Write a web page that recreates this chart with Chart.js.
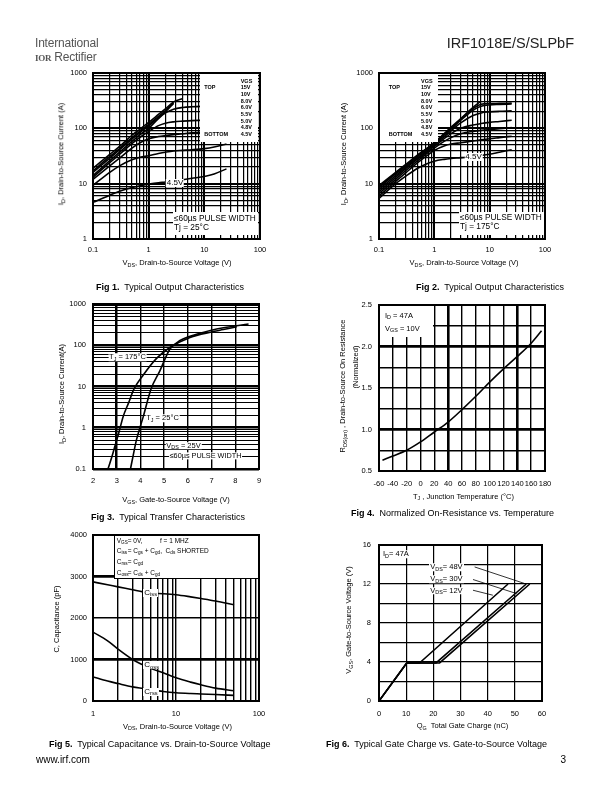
<!DOCTYPE html>
<html><head><meta charset="utf-8">
<script src="https://cdn.jsdelivr.net/npm/chart.js@4.4.0/dist/chart.umd.min.js"></script>
<style>
html,body{margin:0;padding:0;background:#fff;}
body{width:612px;height:792px;position:relative;overflow:hidden;font-family:"Liberation Sans",Arial,sans-serif;color:#000;}
.t{position:absolute;white-space:nowrap;line-height:1;filter:grayscale(1);}
.s{font-size:0.72em;position:relative;top:0.32em;}
.box{position:absolute;background:#fff;}
</style></head><body>
<script>
// ---------------- DATA ----------------
// Fig 1 : Tj = 25 C
const F1_VDS = [0.1,0.2,0.3,0.5,0.7,1,1.5,2,2.8,4.1,6,10,15,25];
const F1_15V = [19,34,47,75,97,128,178,225,300,345,null,null,null,null];
const F1_10V = [17,31,43,68,89,118,165,210,292,null,null,null,null,null];
const F1_8V  = [16,29,41,64,84,111,157,198,282,null,null,null,null,null];
const F1_6V  = [14,26,37,58,77,100,150,190,222,238,245,250,253,256];
const F1_55V = [13,24,34,53,69,88,112,124,131,135,138,140,143,146];
const F1_5V  = [12,21,29,44,55,65,71,74,77,80,83,86,88,91];
const F1_48V = [9.3,16,21,27,30,32,35,37,39,40,41,43,46,52];
const F1_45V = [4.6,6.2,7.3,8.5,9.2,9.8,10.4,10.7,11.2,11.8,12.5,13.5,15,18.5];
// Fig 2 : Tj = 175 C
const F2_VDS = [0.1,0.2,0.3,0.5,0.7,1,1.5,2,3,5,7,10,15,25];
const F2_15V = [9.3,16,22,33,42,55,80,105,150,240,310,null,null,null];
const F2_10V = [8.8,15.5,21,32,41,53,77,100,145,228,272,280,282,285];
const F2_8V  = [8.4,15,20.5,31,40,52,75,97,140,212,250,265,270,275];
const F2_6V  = [7.8,14,19.5,29.5,38,50,70,90,125,170,190,198,203,207];
const F2_55V = [7.2,13,18.5,28,36,47,65,80,100,115,122,128,133,140];
const F2_5V  = [6.6,12,17,26,34,44,58,68,80,88,92,95,98,103];
const F2_48V = [6.0,11,15.5,24,31,40,48,52,55,59,62,65,68,72];
const F2_45V = [5.4,10,13.5,19,22.5,25.5,27.5,28.5,29.5,31,32.5,34,37,41];
const VGS_LEGEND = ['15V','10V','8.0V','6.0V','5.5V','5.0V','4.8V','4.5V'];
// Fig 3 : transfer
const F3_VGS_175 = [2.63,2.8,2.92,3.1,3.27,3.5,3.72,4.12,4.68,5.24,6.09,7.0,7.5,8.06];
const F3_ID_175  = [0.1,0.2,0.35,0.8,1.86,4.0,8.5,19,48,88,155,210,240,280];
const F3_VGS_25  = [3.58,3.7,3.83,4.0,4.12,4.44,4.82,5.24,5.67,6.51,7.5,8.56];
const F3_ID_25   = [0.1,0.22,0.5,1.1,1.86,8.5,24,80,130,195,265,327];
// Fig 4 : normalized Rds(on)
const F4_TJ = [-55,-40,-20,0,20,40,60,80,100,120,140,160,175];
const F4_R  = [0.63,0.68,0.75,0.85,0.97,1.09,1.24,1.40,1.57,1.73,1.88,2.04,2.19];
// Fig 5 : capacitance
const F5_VDS  = [1,1.5,2,3,4,5,7,10,15,20,30,50];
const F5_CISS = [2870,2800,2750,2680,2630,2600,2585,2560,2510,2470,2410,2320];
const F5_COSS = [1660,1450,1250,1000,870,780,680,560,455,390,310,245];
const F5_CRSS = [580,480,420,340,300,270,230,200,180,170,155,135];
// Fig 6 : gate charge
const F6_Q_12V = [0,10.2,14.9,47.5];
const F6_V_12V = [0,3.9,3.9,12];
const F6_Q_30V = [0,10.2,21.0,54.2];
const F6_V_30V = [0,3.9,3.9,12];
const F6_Q_48V = [0,10.2,22.3,55.5];
const F6_V_48V = [0,3.9,3.9,12];
const F6_LEAD48_Q = [35.2,53.6], F6_LEAD48_V = [13.75,12.05];
const F6_LEAD30_Q = [34.6,50.6], F6_LEAD30_V = [12.46,11.02];
const F6_LEAD12_Q = [34.6,41.9], F6_LEAD12_V = [11.36,10.85];

// ---------------- HELPERS ----------------
Chart.defaults.font.family = '"Liberation Sans", Arial, sans-serif';
Chart.defaults.color = '#000';

const framePlugin = {id:'frame', afterDraw(chart){
  const {ctx, chartArea:a} = chart;
  ctx.save(); ctx.strokeStyle='#000'; ctx.lineWidth=2;
  ctx.strokeRect(a.left, a.top, a.right-a.left, a.bottom-a.top); ctx.restore();
}};
const isDec = v => { const l=Math.log10(v); return Math.abs(l-Math.round(l))<1e-6; };
const decLabel = v => { if(!isDec(v)) return ''; const r=Math.round(Math.log10(v)); return r<0 ? Math.pow(10,r).toFixed(-r) : String(Math.round(Math.pow(10,r))); };
function logTicks(min,max){
  const out=[];
  for(let e=Math.floor(Math.log10(min)); e<=Math.ceil(Math.log10(max)); e++)
    for(let m=1;m<=9;m++){ const v=Number((m*Math.pow(10,e)).toPrecision(6)); if(v>=min*0.9999 && v<=max*1.0001) out.push(v); }
  return out;
}
function pairs(xs, ys){ return xs.map((x,i)=>({x, y:ys[i]})).filter(p=>p.y!=null); }
function line(xs, ys, opt={}){
  return Object.assign({data:pairs(xs,ys), borderColor:'#000', borderWidth:1.6, pointRadius:0, fill:false, cubicInterpolationMode:'monotone'}, opt);
}
function logAxis(min,max,pad,lw){
  return {type:'logarithmic', min, max,
    afterBuildTicks: s => { s.ticks = logTicks(min,max).map(v=>({value:v})); },
    ticks:{autoSkip:false, maxRotation:0, minRotation:0, padding:pad, font:{size:7.5}, callback:v=>decLabel(v)},
    grid:{color:'#000', drawTicks:false, lineWidth: c => c.tick ? lw(c.tick.value) : 1},
    border:{display:false}};
}
function linAxis(min,max,step,pad,labelFn,lw,size){
  return {type:'linear', min, max,
    ticks:{stepSize:step, autoSkip:false, maxRotation:0, minRotation:0, padding:pad, font:{size:size||7.5}, callback:labelFn},
    grid:{color:'#000', drawTicks:false, lineWidth: c => c.tick ? lw(c.tick.value) : 1},
    border:{display:false}};
}
function mk(P, datasets, xs, ys){
  const w=P.r-P.l+52, h=P.b-P.t+28;
  const d=document.createElement('div');
  d.style.cssText=`position:absolute;left:${P.l-40}px;top:${P.t-8}px;width:${w}px;height:${h}px;`;
  const c=document.createElement('canvas'); d.appendChild(c); document.body.appendChild(d);
  xs.afterFit = s => { s.height=20; s.paddingLeft=0; s.paddingRight=0; };
  ys.afterFit = s => { s.width=40; s.paddingTop=0; s.paddingBottom=0; };
  return new Chart(c,{type:'line', data:{datasets},
    options:{responsive:true, maintainAspectRatio:false, animation:false, events:[],
      layout:{padding:{left:0,top:8,right:12,bottom:0}},
      plugins:{legend:{display:false}, tooltip:{enabled:false}},
      scales:{x:xs, y:ys}},
    plugins:[framePlugin]});
}
function T(html,x,y,o={}){
  const d=document.createElement('div'); d.className='t'; d.innerHTML=html;
  d.style.left=x+'px'; d.style.top=y+'px'; d.style.fontSize=(o.size||7.5)+'px';
  if(o.bold) d.style.fontWeight='bold';
  if(o.color) d.style.color=o.color;
  if(o.bg){ d.style.background='#fff'; d.style.padding=o.pad||'0 1px'; }
  if(o.ls) d.style.letterSpacing=o.ls;
  const ax = o.align==='center'?'-50%':(o.align==='right'?'-100%':'0');
  d.style.transform = o.rot ? 'translate(-50%,-50%) rotate(-90deg)' : `translate(${ax},-50%)`;
  document.body.appendChild(d); return d;
}
function B(x,y,w,h,border){
  const d=document.createElement('div'); d.className='box';
  d.style.cssText+=`left:${x}px;top:${y}px;width:${w}px;height:${h}px;`+(border?`box-sizing:border-box;border:${border};`:'');
  document.body.appendChild(d);
}
const S = t => `<span class="s">${t}</span>`;

// ---------------- CHARTS ----------------
const P1={l:93,t:73,r:260,b:239}, P2={l:379,t:73,r:545,b:239};
const P3={l:93,t:304,r:259,b:469}, P4={l:379,t:305,r:545,b:471};
const P5={l:93,t:535,r:259,b:701}, P6={l:379,t:545,r:542,b:701};
const lwLog = v => isDec(v)?2:1.2;

mk(P1, [F1_15V,F1_10V,F1_8V,F1_6V,F1_55V,F1_5V,F1_48V,F1_45V].map(a=>line(F1_VDS,a)),
   logAxis(0.1,100,6,lwLog), logAxis(1,1000,6,lwLog));
mk(P2, [F2_15V,F2_10V,F2_8V,F2_6V,F2_55V,F2_5V,F2_48V,F2_45V].map(a=>line(F2_VDS,a)),
   logAxis(0.1,100,6,lwLog), logAxis(1,1000,6,lwLog));
mk(P3, [line(F3_VGS_175,F3_ID_175), line(F3_VGS_25,F3_ID_25)],
   linAxis(2,9,1,7,v=>String(v),v=>v===3?2.5:1.4),
   logAxis(0.1,1000,7,v=>isDec(v)?2.6:1.1));
mk(P4, [line(F4_TJ,F4_R)],
   linAxis(-60,180,20,8,v=>String(v),v=>(v===40||v===140)?2.6:1.4,7.6),
   linAxis(0.5,2.5,0.25,7,v=>Math.abs(v*2-Math.round(v*2))<1e-6?v.toFixed(1):'',v=>(Math.abs(v-1)<1e-6||Math.abs(v-2)<1e-6)?2.8:1.4));
mk(P5, [line(F5_VDS,F5_CISS), line(F5_VDS,F5_COSS), line(F5_VDS,F5_CRSS)],
   logAxis(1,100,8,v=>1.4),
   linAxis(0,4000,1000,6,v=>String(v),v=>(v===1000||v===3000)?2.8:1.4));
const straight = {cubicInterpolationMode:'default', tension:0};
mk(P6, [line(F6_Q_12V,F6_V_12V,straight), line(F6_Q_30V,F6_V_30V,straight), line(F6_Q_48V,F6_V_48V,straight),
        line(F6_LEAD48_Q,F6_LEAD48_V,Object.assign({borderWidth:0.8},straight)),
        line(F6_LEAD30_Q,F6_LEAD30_V,Object.assign({borderWidth:0.8},straight)),
        line(F6_LEAD12_Q,F6_LEAD12_V,Object.assign({borderWidth:0.8},straight))],
   linAxis(0,60,10,8,v=>String(v),v=>1.2),
   linAxis(0,16,2,8,v=>v%4===0?String(v):'',v=>1.2));

// ---------------- TEXT ----------------
// header
T('International',35,43,{size:12,color:'#555',ls:'-0.2px'});
T('<b style="font-family:\'Liberation Serif\',serif;font-size:9px;letter-spacing:-0.3px">IOR</b> Rectifier',35,57,{size:12,color:'#555',ls:'-0.2px'});
T('IRF1018E/S/SLPbF',574,43,{size:14.5,align:'right',color:'#222'});

// Fig 1
B(200,74,58,68);
T('VGS',240.7,81.7,{size:5.5,bold:true});
VGS_LEGEND.forEach((s,i)=>T(s,240.7,88.4+i*6.66,{size:5.5,bold:true}));
T('TOP',204.3,88.4,{size:5.5,bold:true});
T('BOTTOM',204.3,135,{size:5.5,bold:true});
B(173,212,85,23);
T('&le;60&micro;s PULSE WIDTH',174,217.5,{size:8.3});
T('Tj = 25&deg;C',174,226.8,{size:8.3});
T('4.5V',175,183,{size:8,align:'center',bg:true});
T('I'+S('D')+', Drain-to-Source Current (A)',61,154,{rot:true});
T('V'+S('DS')+', Drain-to-Source Voltage (V)',177,263.3,{align:'center'});
T('<b>Fig 1.</b>&nbsp; Typical Output Characteristics',96,287,{size:9});

// Fig 2
B(380,74,58,68);
T('VGS',421,81.7,{size:5.5,bold:true});
VGS_LEGEND.forEach((s,i)=>T(s,421,88.4+i*6.66,{size:5.5,bold:true}));
T('TOP',388.7,88.4,{size:5.5,bold:true});
T('BOTTOM',388.7,135,{size:5.5,bold:true});
B(459,212,85,23);
T('&le;60&micro;s PULSE WIDTH',460,217,{size:8.3});
T('Tj = 175&deg;C',460,226.3,{size:8.3});
T('4.5V',473.5,157,{size:8,align:'center',bg:true});
T('I'+S('D')+', Drain-to-Source Current (A)',344.3,154,{rot:true});
T('V'+S('DS')+', Drain-to-Source Voltage (V)',464,263.3,{align:'center'});
T('<b>Fig 2.</b>&nbsp; Typical Output Characteristics',416,287,{size:9});

// Fig 3
T('T'+S('J')+' = 175&deg;C',127.5,357.3,{align:'center',bg:true});
T('T'+S('J')+' = 25&deg;C',162.5,418.3,{align:'center',bg:true});
T('V'+S('DS')+' = 25V',183.5,445.5,{align:'center',bg:true});
T('&le;60&micro;s PULSE WIDTH',205.5,455.7,{align:'center',bg:true,size:7.3});
T('I'+S('D')+', Drain-to-Source Current(A)',62,394,{rot:true});
T('V'+S('GS')+', Gate-to-Source Voltage (V)',176,500,{align:'center'});
T('<b>Fig 3.</b>&nbsp; Typical Transfer Characteristics',91,517,{size:9});

// Fig 4
B(380,306,53,31);
T('I'+S('D')+' = 47A',385,315.5);
T('V'+S('GS')+' = 10V',385,328.7);
T('R'+S('DS(on)')+' , Drain-to-Source On Resistance',342.7,386,{rot:true});
T('(Normalized)',356,367,{rot:true});
T('T'+S('J')+' , Junction Temperature (&deg;C)',463.5,496.7,{align:'center'});
T('<b>Fig 4.</b>&nbsp; Normalized On-Resistance vs. Temperature',351,513,{size:9});

// Fig 5
B(114,535,145,44,'1px solid #000');
T('V'+S('GS'),116.7,541,{size:6.5}); T('= 0V,',127.7,541,{size:6.5}); T('f = 1 MHZ',160,541,{size:6.5});
T('C'+S('iss'),116.7,551,{size:6.5}); T('= C'+S('gs')+' + C'+S('gd')+',&nbsp; C'+S('ds')+' SHORTED',127.7,551,{size:6.5});
T('C'+S('rss'),116.7,562,{size:6.5}); T('= C'+S('gd'),127.7,562,{size:6.5});
T('C'+S('oss'),116.7,573,{size:6.5}); T('= C'+S('ds')+' + C'+S('gd'),127.7,573,{size:6.5});
T('C'+S('iss'),143.3,592.5,{size:8,bg:true});
T('C'+S('oss'),143.3,665,{size:8,bg:true});
T('C'+S('rss'),143.3,691.5,{size:8,bg:true});
T('C, Capacitance (pF)',57,619,{rot:true});
T('V'+S('DS')+', Drain-to-Source Voltage (V)',177.5,726.5,{align:'center'});
T('<b>Fig 5.</b>&nbsp; Typical Capacitance vs. Drain-to-Source Voltage',49,744,{size:9});

// Fig 6
T('I'+S('D')+'= 47A',382,554,{bg:true});
T('V'+S('DS')+'= 48V',429.3,567.3,{bg:true});
T('V'+S('DS')+'= 30V',429.3,579.3,{bg:true});
T('V'+S('DS')+'= 12V',429.3,590.7,{bg:true});
T('V'+S('GS')+', Gate-to-Source Voltage (V)',349,620,{rot:true});
T('Q'+S('G')+'&nbsp; Total Gate Charge (nC)',462.5,726,{align:'center'});
T('<b>Fig 6.</b>&nbsp; Typical Gate Charge vs. Gate-to-Source Voltage',326,744,{size:9});

// footer
T('www.irf.com',36,760,{size:10});
T('3',566,760,{size:10,align:'right'});
</script>
</body></html>
